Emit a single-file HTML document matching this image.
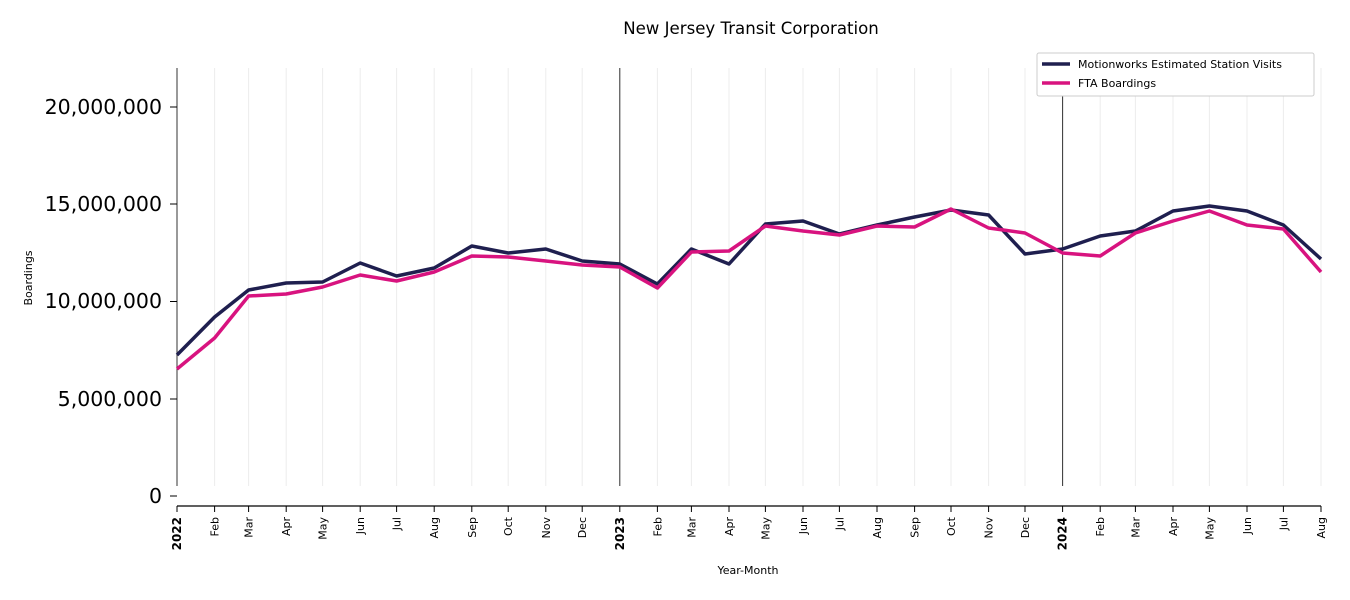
<!DOCTYPE html>
<html><head><meta charset="utf-8"><style>body{margin:0;background:#fff}svg{display:block}text{font-family:"DejaVu Sans","Liberation Sans",sans-serif}</style></head><body>
<svg width="1350" height="600" viewBox="0 0 1350 600" xmlns="http://www.w3.org/2000/svg">
<text x="751" y="34" font-size="16.6" text-anchor="middle">New Jersey Transit Corporation</text>
<g id="grid" stroke="#ececec" stroke-width="1"></g>
<line x1="619.8" y1="68" x2="619.8" y2="486" stroke="#333" stroke-width="1"/>
<line x1="1062.6" y1="68" x2="1062.6" y2="486" stroke="#333" stroke-width="1"/>
<line x1="177" y1="68" x2="177" y2="486" stroke="#333" stroke-width="1"/>
<line x1="177" y1="506" x2="1321" y2="506" stroke="#000" stroke-width="1.2"/>
<g font-size="20.5" text-anchor="end" fill="#000">
<text x="162" y="114">20,000,000</text><line x1="170" y1="107" x2="177" y2="107" stroke="#000"/>
<text x="162" y="211">15,000,000</text><line x1="170" y1="204" x2="177" y2="204" stroke="#000"/>
<text x="162" y="308">10,000,000</text><line x1="170" y1="301.5" x2="177" y2="301.5" stroke="#000"/>
<text x="162" y="406">5,000,000</text><line x1="170" y1="399" x2="177" y2="399" stroke="#000"/>
<text x="162" y="503">0</text><line x1="170" y1="496" x2="177" y2="496" stroke="#000"/>
</g>
<text transform="translate(32,278) rotate(-90)" font-size="11" text-anchor="middle">Boardings</text>
<text x="748" y="574" font-size="11" text-anchor="middle">Year-Month</text>
<g id="xt"></g>
<polyline id="navy" fill="none" stroke="#1f1f4f" stroke-width="3.5" stroke-linejoin="round"/>
<polyline id="pink" fill="none" stroke="#d8137f" stroke-width="3.5" stroke-linejoin="round"/>
<rect x="1037" y="53" width="277" height="43" fill="#fff" stroke="#ccc" rx="2"/>
<line x1="1042" y1="64" x2="1070" y2="64" stroke="#1f1f4f" stroke-width="3.5"/>
<text x="1078" y="68" font-size="11">Motionworks Estimated Station Visits</text>
<line x1="1042" y1="83" x2="1070" y2="83" stroke="#d8137f" stroke-width="3.5"/>
<text x="1078" y="87" font-size="11">FTA Boardings</text>
</svg>
<script>
var xs=[177,214.6,248.6,286.2,322.6,360.2,396.6,434.2,471.8,508.2,545.8,582.2,619.8,657.4,691.4,729.0,765.4,803.0,839.4,877.0,914.6,951.0,988.6,1025.0,1062.6,1100.2,1135.4,1173.0,1209.4,1247.0,1283.4,1321];
var n=[355,317,290,283,282,263,276,268,246,253,249,261,264,284,249,264,224,221,234,225,217,210,215,254,249,236,231,211,206,211,225,259];
var p=[369,338,296,294,287,275,281,272,256,257,261,265,267,288,252,251,226,231,235,226,227,209,228,233,253,256,233,221,211,225,229,272];
var m=["Jan","Feb","Mar","Apr","May","Jun","Jul","Aug","Sep","Oct","Nov","Dec"];
var ns="http://www.w3.org/2000/svg",g=document.getElementById("grid"),t=document.getElementById("xt");
xs.forEach(function(x,i){
 var l=document.createElementNS(ns,"line");l.setAttribute("x1",x);l.setAttribute("x2",x);l.setAttribute("y1",68);l.setAttribute("y2",486);g.appendChild(l);
 var k=document.createElementNS(ns,"line");k.setAttribute("x1",x);k.setAttribute("x2",x);k.setAttribute("y1",506);k.setAttribute("y2",512);k.setAttribute("stroke","#000");t.appendChild(k);
 var s=document.createElementNS(ns,"text");var lab=i%12==0?String(2022+i/12):m[i%12];
 s.textContent=lab;s.setAttribute("font-size","11");s.setAttribute("text-anchor","end");
 if(i%12==0){s.setAttribute("font-weight","bold");s.setAttribute("font-size","12");}
 s.setAttribute("transform","translate("+(x+4)+",517) rotate(-90)");t.appendChild(s);
});
document.getElementById("navy").setAttribute("points",xs.map(function(x,i){return x+","+n[i]}).join(" "));
document.getElementById("pink").setAttribute("points",xs.map(function(x,i){return x+","+p[i]}).join(" "));
</script>
</body></html>
